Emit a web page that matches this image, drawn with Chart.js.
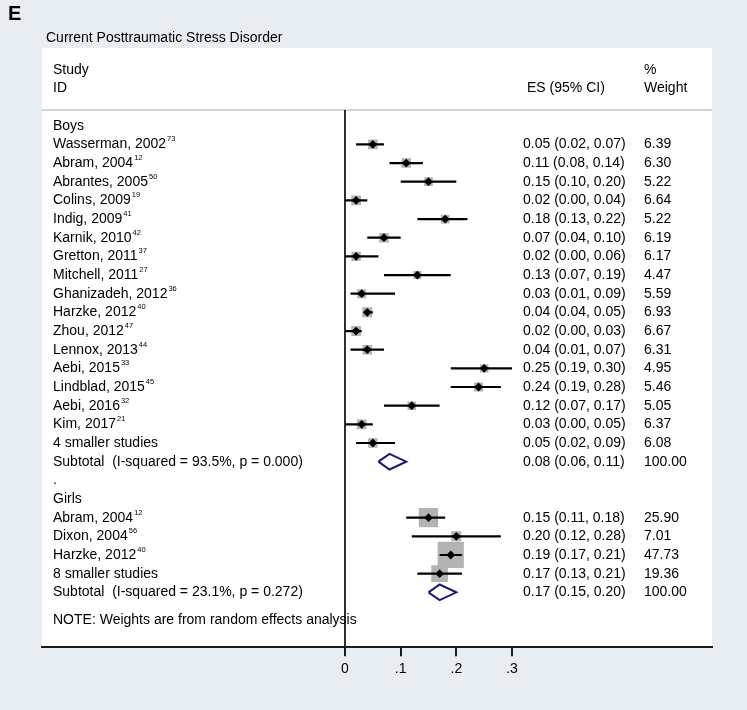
<!DOCTYPE html>
<html>
<head>
<meta charset="utf-8">
<script src="https://cdn.jsdelivr.net/npm/chart.js@4.4.1/dist/chart.umd.min.js"></script>
<style>
  html, body { margin: 0; padding: 0; background: #e8edf1; }
  canvas { display: block; }
</style>
</head>
<body>
<canvas id="forest" width="747" height="710"></canvas>
<script>
const FONT = '"Liberation Sans", Arial, Helvetica, sans-serif';

// Boys subgroup
const boysStudies = ['Wasserman, 2002', 'Abram, 2004', 'Abrantes, 2005', 'Colins, 2009', 'Indig, 2009',
  'Karnik, 2010', 'Gretton, 2011', 'Mitchell, 2011', 'Ghanizadeh, 2012', 'Harzke, 2012', 'Zhou, 2012',
  'Lennox, 2013', 'Aebi, 2015', 'Lindblad, 2015', 'Aebi, 2016', 'Kim, 2017', '4 smaller studies'];
const boysRefs = ['73', '12', '50', '19', '41', '42', '37', '27', '36', '40', '47', '44', '33', '45', '32', '21', ''];
const boysES = [0.05, 0.11, 0.15, 0.02, 0.18, 0.07, 0.02, 0.13, 0.03, 0.04, 0.02, 0.04, 0.25, 0.24, 0.12, 0.03, 0.05];
const boysLo = [0.02, 0.08, 0.10, 0.00, 0.13, 0.04, 0.00, 0.07, 0.01, 0.04, 0.00, 0.01, 0.19, 0.19, 0.07, 0.00, 0.02];
const boysHi = [0.07, 0.14, 0.20, 0.04, 0.22, 0.10, 0.06, 0.19, 0.09, 0.05, 0.03, 0.07, 0.30, 0.28, 0.17, 0.05, 0.09];
const boysWeight = [6.39, 6.30, 5.22, 6.64, 5.22, 6.19, 6.17, 4.47, 5.59, 6.93, 6.67, 6.31, 4.95, 5.46, 5.05, 6.37, 6.08];

// Girls subgroup
const girlsStudies = ['Abram, 2004', 'Dixon, 2004', 'Harzke, 2012', '8 smaller studies'];
const girlsRefs = ['12', '56', '40', ''];
const girlsES = [0.15, 0.20, 0.19, 0.17];
const girlsLo = [0.11, 0.12, 0.17, 0.13];
const girlsHi = [0.18, 0.28, 0.21, 0.21];
const girlsWeight = [25.90, 7.01, 47.73, 19.36];

// Subtotals (boys, girls)
const subLabels = ['Subtotal  (I-squared = 93.5%, p = 0.000)', 'Subtotal  (I-squared = 23.1%, p = 0.272)'];
const subES = [0.08, 0.17];
const subLo = [0.06, 0.15];
const subHi = [0.11, 0.20];
const subWeight = [100.00, 100.00];

const xTicks = [0, 0.1, 0.2, 0.3];
const xTickLabels = ['0', '.1', '.2', '.3'];

// row positions (one unit = one text line)
const boysRows = boysStudies.map((_, i) => i + 1);
const girlsRows = girlsStudies.map((_, i) => i + 21);
const subRows = [18, 25];

const studyES = boysES.concat(girlsES);
const studyLo = boysLo.concat(girlsLo);
const studyHi = boysHi.concat(girlsHi);
const studyW = boysWeight.concat(girlsWeight);
const studyRows = boysRows.concat(girlsRows);

const ciData = [];
studyES.forEach((_, i) => {
  ciData.push({ x: studyLo[i], y: studyRows[i] }, { x: studyHi[i], y: studyRows[i] }, { x: studyHi[i], y: null });
});

const diamondData = [];
const dh = 0.42;
subES.forEach((es, i) => {
  const r = subRows[i];
  diamondData.push({ x: subLo[i], y: r }, { x: es, y: r - dh }, { x: subHi[i], y: r },
    { x: es, y: r + dh }, { x: subLo[i], y: r }, { x: es, y: null });
});

const fmt = v => v.toFixed(2);

const forestText = {
  id: 'forestText',
  beforeDraw(chart) {
    const { ctx, chartArea: a, scales: { x, y } } = chart;
    ctx.save();
    ctx.fillStyle = '#e8edf1';
    ctx.fillRect(0, 0, chart.width, chart.height);
    ctx.fillStyle = '#ffffff';
    ctx.fillRect(a.left, a.top, a.right - a.left, a.bottom - a.top);

    const lineY = y.getPixelForValue(-0.84);
    ctx.strokeStyle = '#c6c6c6';
    ctx.lineWidth = 1.5;
    ctx.beginPath();
    ctx.moveTo(a.left, lineY);
    ctx.lineTo(a.right, lineY);
    ctx.stroke();

    // null line
    ctx.strokeStyle = '#1a1a1a';
    ctx.lineWidth = 1.8;
    ctx.beginPath();
    ctx.moveTo(x.getPixelForValue(0), lineY);
    ctx.lineTo(x.getPixelForValue(0), a.bottom);
    ctx.stroke();

    ctx.fillStyle = '#000';
    ctx.textBaseline = 'middle';
    ctx.textAlign = 'left';
    ctx.font = 'bold 20px ' + FONT;
    ctx.fillText('E', 8, 14);
    ctx.font = '14px ' + FONT;
    ctx.fillText('Current Posttraumatic Stress Disorder', 46, 38);

    const colName = 53, colES = 523, colW = 644;
    const put = (t, cx, row) => ctx.fillText(t, cx, y.getPixelForValue(row));
    const label = (t, ref, row) => {
      ctx.font = '14px ' + FONT;
      put(t, colName, row);
      if (ref) {
        const w = ctx.measureText(t).width;
        ctx.font = '7.5px ' + FONT;
        ctx.fillText(ref, colName + w + 1, y.getPixelForValue(row) - 5);
        ctx.font = '14px ' + FONT;
      }
    };

    ctx.font = '14px ' + FONT;
    put('Study', colName, -3);
    put('ID', colName, -2);
    put('ES (95% CI)', 527, -2);
    put('%', colW, -3);
    put('Weight', colW, -2);

    put('Boys', colName, 0);
    boysStudies.forEach((s, i) => {
      label(s, boysRefs[i], boysRows[i]);
      put(fmt(boysES[i]) + ' (' + fmt(boysLo[i]) + ', ' + fmt(boysHi[i]) + ')', colES, boysRows[i]);
      put(fmt(boysWeight[i]), colW, boysRows[i]);
    });
    put('.', colName, 19);
    put('Girls', colName, 20);
    girlsStudies.forEach((s, i) => {
      label(s, girlsRefs[i], girlsRows[i]);
      put(fmt(girlsES[i]) + ' (' + fmt(girlsLo[i]) + ', ' + fmt(girlsHi[i]) + ')', colES, girlsRows[i]);
      put(fmt(girlsWeight[i]), colW, girlsRows[i]);
    });
    subLabels.forEach((s, i) => {
      put(s, colName, subRows[i]);
      put(fmt(subES[i]) + ' (' + fmt(subLo[i]) + ', ' + fmt(subHi[i]) + ')', colES, subRows[i]);
      put(fmt(subWeight[i]), colW, subRows[i]);
    });
    put('NOTE: Weights are from random effects analysis', colName, 26.5);
    ctx.restore();
  }
};

new Chart(document.getElementById('forest'), {
  type: 'scatter',
  data: {
    datasets: [
      {
        label: 'Weight',
        data: studyES.map((v, i) => ({ x: v, y: studyRows[i] })),
        pointStyle: 'rect',
        pointRadius: studyW.map(w => 3.8 * Math.sqrt(w) / Math.SQRT2),
        backgroundColor: '#b3b3b3',
        borderWidth: 0,
        order: 4
      },
      {
        label: '95% CI',
        data: ciData,
        showLine: true,
        spanGaps: false,
        pointRadius: 0,
        borderColor: '#000',
        borderWidth: 2.2,
        order: 3
      },
      {
        label: 'ES',
        data: studyES.map((v, i) => ({ x: v, y: studyRows[i] })),
        pointStyle: 'rectRot',
        pointRadius: 4.4,
        backgroundColor: '#000',
        borderWidth: 0,
        order: 2
      },
      {
        label: 'Subtotal',
        data: diamondData,
        showLine: true,
        spanGaps: false,
        pointRadius: 0,
        borderColor: '#1c1c6e',
        borderWidth: 2,
        borderJoinStyle: 'miter',
        order: 1
      }
    ]
  },
  options: {
    responsive: false,
    animation: false,
    events: [],
    layout: { padding: { top: 48, left: 42, right: 35, bottom: 27 } },
    plugins: { legend: { display: false }, tooltip: { enabled: false } },
    scales: {
      x: {
        type: 'linear',
        min: -0.5443,
        max: 0.6593,
        afterBuildTicks: scale => { scale.ticks = xTicks.map(v => ({ value: v })); },
        ticks: {
          color: '#000',
          font: { family: FONT, size: 14 },
          padding: 5,
          maxRotation: 0,
          autoSkip: false,
          callback: v => xTickLabels[xTicks.indexOf(v)]
        },
        grid: { drawOnChartArea: false, drawTicks: true, tickLength: 9, color: '#1a1a1a', lineWidth: 2 },
        border: { display: true, color: '#1a1a1a', width: 2 }
      },
      y: {
        type: 'linear',
        display: false,
        reverse: true,
        min: -4.164,
        max: 27.94
      }
    }
  },
  plugins: [forestText]
});
</script>
</body>
</html>
